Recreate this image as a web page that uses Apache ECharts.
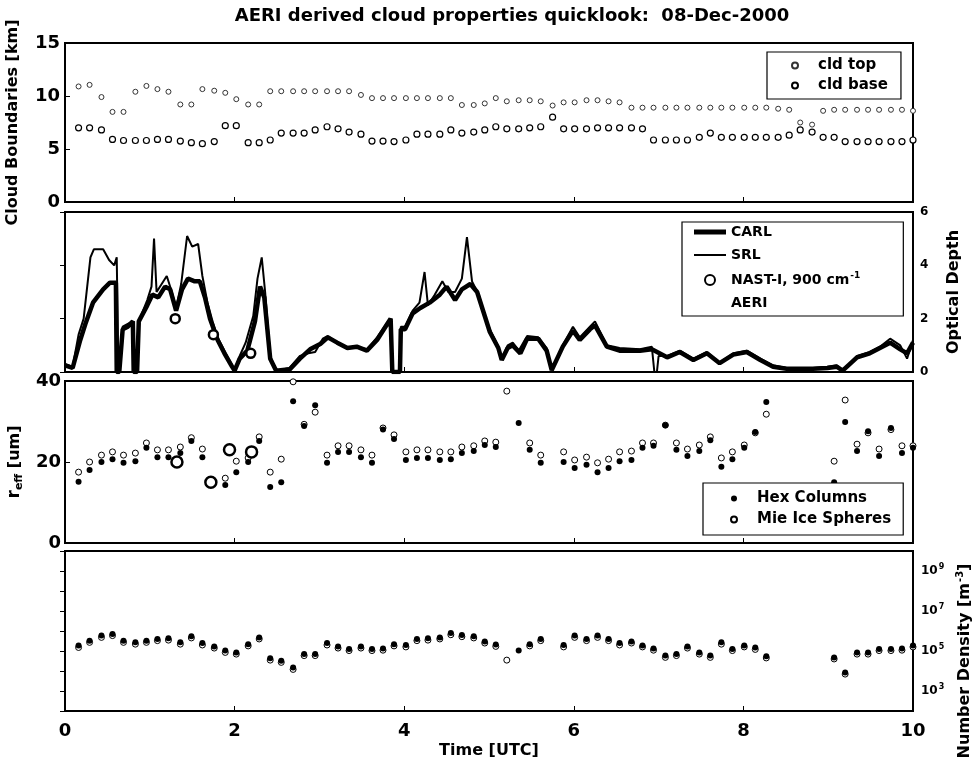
<!DOCTYPE html>
<html>
<head>
<meta charset="utf-8">
<script src="https://cdn.jsdelivr.net/npm/echarts@6/dist/echarts.min.js"></script>
<style>
  html, body { margin: 0; padding: 0; background: #fff; }
  #chart { width: 980px; height: 763px; }
</style>
</head>
<body>
<div id="chart"></div>
<script>
// Retrieval times (UTC hours) shared by the cloud boundary, r_eff and density panels
const retrievalTimes = [
  0.16, 0.29, 0.43, 0.56, 0.69, 0.83, 0.96, 1.09, 1.22, 1.36,
  1.49, 1.62, 1.76, 1.89, 2.02, 2.16, 2.29, 2.42, 2.55, 2.69,
  2.82, 2.95, 3.09, 3.22, 3.35, 3.49, 3.62, 3.75, 3.88, 4.02,
  4.15, 4.28, 4.42, 4.55, 4.68, 4.82, 4.95, 5.08, 5.21, 5.35,
  5.48, 5.61, 5.75, 5.88, 6.01, 6.15, 6.28, 6.41, 6.54, 6.68,
  6.81, 6.94, 7.08, 7.21, 7.34, 7.48, 7.61, 7.74, 7.87, 8.01,
  8.14, 8.27, 8.41, 8.54, 8.67, 8.81, 8.94, 9.07, 9.20, 9.34,
  9.47, 9.60, 9.74, 9.87, 10.00
];

// Cloud boundaries [km]
const cloudTop = [
  10.9, 11.05, 9.9, 8.5, 8.5, 10.4, 10.95, 10.65, 10.4, 9.2,
  9.2, 10.65, 10.5, 10.3, 9.7, 9.2, 9.2, 10.45, 10.45, 10.45,
  10.45, 10.45, 10.45, 10.45, 10.45, 10.1, 9.8, 9.8, 9.8, 9.8,
  9.8, 9.8, 9.8, 9.8, 9.15, 9.15, 9.3, 9.8, 9.5, 9.6,
  9.6, 9.5, 9.1, 9.4, 9.4, 9.6, 9.6, 9.5, 9.4, 8.9,
  8.9, 8.9, 8.9, 8.9, 8.9, 8.9, 8.9, 8.9, 8.9, 8.9,
  8.9, 8.9, 8.8, 8.7, 7.5, 7.3, 8.6, 8.7, 8.7, 8.7,
  8.7, 8.7, 8.7, 8.7, 8.6
];
const cloudBase = [
  7.0, 7.0, 6.8, 5.9, 5.8, 5.8, 5.8, 5.9, 5.9, 5.75,
  5.6, 5.5, 5.7, 7.2, 7.2, 5.6, 5.6, 5.85, 6.5, 6.5,
  6.5, 6.8, 7.1, 6.9, 6.6, 6.4, 5.75, 5.75, 5.7, 5.85,
  6.4, 6.4, 6.4, 6.8, 6.5, 6.6, 6.8, 7.1, 6.9, 6.9,
  7.0, 7.1, 8.0, 6.9, 6.9, 6.9, 7.0, 7.0, 7.0, 7.0,
  6.9, 5.85, 5.85, 5.85, 5.85, 6.1, 6.5, 6.1, 6.1, 6.1,
  6.1, 6.1, 6.1, 6.3, 6.8, 6.6, 6.1, 6.1, 5.7, 5.7,
  5.7, 5.7, 5.7, 5.7, 5.85
];

// Optical depth time series [UTC hour, tau]
const carlTau = [
  [0.00, 0.25], [0.09, 0.15], [0.18, 1.2], [0.24, 1.8], [0.33, 2.6], [0.45, 3.1], [0.53, 3.35],
  [0.60, 3.35], [0.61, 0], [0.64, 0], [0.68, 1.6], [0.74, 1.7], [0.80, 1.9], [0.81, 0], [0.85, 0],
  [0.87, 1.9], [0.97, 2.5], [1.03, 2.9], [1.10, 2.8], [1.18, 3.2], [1.24, 3.1], [1.31, 2.3],
  [1.38, 3.1], [1.45, 3.5], [1.53, 3.4], [1.59, 3.4], [1.65, 2.8], [1.71, 2.0], [1.80, 1.2],
  [1.88, 0.7], [1.97, 0.2], [2.00, 0.05], [2.06, 0.5], [2.15, 0.8], [2.24, 1.9], [2.30, 3.2],
  [2.35, 2.8], [2.42, 0.5], [2.49, 0.05], [2.65, 0.1], [2.77, 0.5], [2.89, 0.85], [3.01, 1.05],
  [3.10, 1.3], [3.21, 1.1], [3.33, 0.9], [3.44, 0.95], [3.56, 0.8], [3.68, 1.2], [3.80, 1.8],
  [3.84, 2.0], [3.86, 0], [3.95, 0], [3.96, 1.6], [4.01, 1.6], [4.10, 2.2], [4.19, 2.4],
  [4.30, 2.6], [4.42, 2.9], [4.50, 3.2], [4.60, 2.7], [4.68, 3.1], [4.78, 3.3], [4.86, 3.0],
  [4.95, 2.1], [5.01, 1.5], [5.11, 0.9], [5.15, 0.45], [5.22, 0.9], [5.28, 1.0], [5.37, 0.7],
  [5.45, 1.25], [5.58, 1.25], [5.68, 0.8], [5.74, 0.07], [5.87, 0.95], [5.99, 1.55], [6.07, 1.2],
  [6.19, 1.6], [6.25, 1.75], [6.39, 0.95], [6.54, 0.8], [6.78, 0.8], [6.92, 0.85], [7.10, 0.55],
  [7.25, 0.75], [7.41, 0.45], [7.57, 0.7], [7.72, 0.33], [7.88, 0.65], [8.04, 0.75], [8.20, 0.45],
  [8.35, 0.2], [8.51, 0.12], [8.67, 0.12], [8.82, 0.12], [8.99, 0.15], [9.10, 0.2], [9.17, 0.05],
  [9.34, 0.55], [9.49, 0.7], [9.61, 0.9], [9.73, 1.1], [9.85, 0.85], [9.93, 0.7], [10.00, 1.1]
];
const srlTau = [
  [0.00, 0.3], [0.09, 0.2], [0.16, 1.4], [0.22, 2.0], [0.30, 4.3], [0.34, 4.6], [0.45, 4.6],
  [0.52, 4.2], [0.58, 4.0], [0.61, 4.3], [0.63, 0], [0.65, 0], [0.68, 1.7], [0.74, 1.8],
  [0.80, 1.9], [0.81, 0], [0.85, 0], [0.87, 1.9], [0.97, 2.7], [1.02, 3.2], [1.05, 5.0],
  [1.08, 3.0], [1.14, 3.3], [1.20, 3.6], [1.26, 3.0], [1.31, 2.4], [1.37, 3.3], [1.44, 5.1],
  [1.50, 4.7], [1.57, 4.8], [1.62, 3.6], [1.68, 2.6], [1.74, 1.9], [1.80, 1.3], [1.88, 0.8],
  [1.97, 0.25], [2.00, 0.05], [2.06, 0.6], [2.13, 1.1], [2.22, 2.1], [2.27, 3.5], [2.32, 4.3],
  [2.36, 3.0], [2.42, 0.6], [2.49, 0.05], [2.65, 0.15], [2.77, 0.6], [2.87, 0.7], [2.95, 0.75],
  [3.04, 1.25], [3.10, 1.35], [3.21, 1.1], [3.33, 0.9], [3.44, 0.95], [3.56, 0.85], [3.68, 1.3],
  [3.80, 1.85], [3.84, 2.0], [3.86, 0], [3.95, 0], [3.96, 1.7], [4.01, 1.7], [4.10, 2.3],
  [4.18, 2.6], [4.24, 3.75], [4.28, 2.5], [4.36, 2.9], [4.45, 3.4], [4.52, 3.0], [4.60, 3.0],
  [4.68, 3.5], [4.74, 5.06], [4.80, 3.4], [4.88, 2.9], [4.95, 2.1], [5.01, 1.6], [5.11, 0.95],
  [5.15, 0.5], [5.22, 1.0], [5.28, 1.1], [5.35, 0.8], [5.45, 1.35], [5.58, 1.3], [5.68, 0.9],
  [5.74, 0.07], [5.87, 1.0], [5.99, 1.7], [6.07, 1.3], [6.19, 1.7], [6.25, 1.9], [6.39, 1.0],
  [6.54, 0.9], [6.78, 0.85], [6.92, 0.95], [6.95, 0], [6.98, 0], [7.00, 0.6], [7.10, 0.6],
  [7.25, 0.8], [7.41, 0.5], [7.57, 0.75], [7.72, 0.35], [7.88, 0.7], [8.04, 0.8], [8.20, 0.5],
  [8.35, 0.25], [8.51, 0.15], [8.67, 0.15], [8.82, 0.15], [8.99, 0.2], [9.10, 0.25], [9.17, 0.05],
  [9.34, 0.6], [9.49, 0.75], [9.61, 0.95], [9.73, 1.25], [9.85, 1.0], [9.93, 0.5], [10.00, 1.2]
];
const aeriTau = [];
const nastTau = [[1.30, 2.0], [1.75, 1.4], [2.19, 0.7]];

// Effective radius [um]
const reffHex = [
  15.1, 18.0, 20.0, 20.7, 19.8, 20.2, 23.5, 21.2, 21.2, 22.2,
  25.2, 21.2, null, 14.3, 17.5, 20.0, 25.2, 13.8, 15.0, 35.0,
  28.9, 34.0, 19.8, 22.5, 22.5, 21.2, 19.8, 28.0, 25.7, 20.5,
  21.0, 21.0, 20.5, 20.7, 22.2, 22.7, 24.2, 23.7, null, 29.6,
  23.0, 19.8, null, 20.0, 18.5, 19.3, 17.5, 18.5, 20.2, 20.5,
  23.5, 24.0, 29.1, 23.0, 21.5, 22.7, 25.4, 18.8, 20.7, 23.5,
  27.4, 34.8, null, null, null, null, null, 15.0, 29.9, 22.7,
  27.6, 21.5, 28.4, 22.2, 23.5
];
const reffMie = [
  17.5, 20.0, 21.7, 22.5, 21.7, 22.2, 24.7, 23.0, 23.0, 23.7,
  26.0, 23.2, null, 16.0, 20.2, 21.0, 26.2, 17.5, 20.7, 39.8,
  29.3, 32.3, 21.7, 24.0, 24.0, 23.0, 21.7, 28.4, 26.7, 22.5,
  23.0, 23.0, 22.5, 22.5, 23.7, 24.0, 25.2, 24.9, 37.5, null,
  24.7, 21.7, null, 22.5, 20.5, 21.2, 19.8, 20.7, 22.5, 22.7,
  24.7, 24.7, 29.1, 24.7, 23.2, 24.2, 26.2, 21.0, 22.5, 24.2,
  27.2, 31.8, null, null, null, null, null, 20.2, 35.3, 24.4,
  27.2, 23.2, 28.0, 24.0, 24.0
];
const nastReff = [[1.32, 20.0], [1.72, 15.0], [1.94, 23.0], [2.20, 22.5]];

// Number density [m^-3]
const densityHex = [
  1.9e5, 3.3e5, 5.9e5, 7.1e5, 3.3e5, 2.7e5, 3.3e5, 4.0e5, 4.3e5, 2.7e5,
  5.4e5, 2.5e5, 1.7e5, 1.05e5, 8.5e4, 2.2e5, 4.8e5, 4.3e4, 3.3e4, 1.5e4,
  7.1e4, 7.1e4, 2.5e5, 1.7e5, 1.26e5, 1.7e5, 1.26e5, 1.35e5, 2.2e5, 2.0e5,
  4.0e5, 4.3e5, 4.8e5, 7.9e5, 6.3e5, 5.4e5, 3.0e5, 2.1e5, null, 1.05e5,
  2.2e5, 4.0e5, null, 2.0e5, 5.9e5, 4.0e5, 5.9e5, 4.0e5, 2.5e5, 3.0e5,
  1.9e5, 1.35e5, 5.9e4, 7.1e4, 1.7e5, 8.5e4, 5.9e4, 2.7e5, 1.26e5, 1.9e5,
  1.5e5, 5.4e4, null, null, null, null, null, 4.8e4, 8.5e3, 8.5e4,
  8.5e4, 1.26e5, 1.26e5, 1.35e5, 1.9e5
];
const densityMie = [
  1.5e5, 2.7e5, 4.8e5, 5.9e5, 2.7e5, 2.2e5, 2.7e5, 3.3e5, 3.5e5, 2.2e5,
  4.5e5, 2.0e5, 1.4e5, 8.5e4, 7.0e4, 1.8e5, 4.0e5, 3.5e4, 2.7e4, 1.2e4,
  5.9e4, 5.9e4, 2.0e5, 1.4e5, 1.05e5, 1.4e5, 1.05e5, 1.1e5, 1.8e5, 1.6e5,
  3.3e5, 3.5e5, 4.0e5, 6.5e5, 5.2e5, 4.5e5, 2.5e5, 1.7e5, 3.5e4, null,
  1.8e5, 3.3e5, null, 1.6e5, 4.8e5, 3.3e5, 4.8e5, 3.3e5, 2.0e5, 2.5e5,
  1.6e5, 1.1e5, 4.8e4, 5.9e4, 1.4e5, 7.0e4, 4.8e4, 2.2e5, 1.05e5, 1.6e5,
  1.2e5, 4.5e4, null, null, null, null, null, 4.0e4, 7.0e3, 7.0e4,
  7.0e4, 1.05e5, 1.05e5, 1.1e5, 1.6e5
];

const FONT = '"DejaVu Sans", "Liberation Sans", Arial, sans-serif';
const pairs = vals => retrievalTimes.map((t, i) => [t, vals[i]]).filter(p => p[1] != null);

const chart = echarts.init(document.getElementById('chart'), null, { renderer: 'canvas' });

const grids = [
  { left: 65, right: 67, top: 43, height: 159 },
  { left: 65, right: 67, top: 212, height: 160 },
  { left: 65, right: 67, top: 381, height: 162 },
  { left: 65, right: 67, top: 551, height: 160 }
].map(g => Object.assign(g, {
  show: true, borderColor: '#000', borderWidth: 2, backgroundColor: '#fff',
  containLabel: false, outerBoundsMode: 'none'
}));

const tickStyle = { show: true, inside: true, length: 5, lineStyle: { color: '#000', width: 1 } };
const lineStyle = { show: true, lineStyle: { color: '#000', width: 2 } };
const boldText = (size) => ({ color: '#000', fontFamily: FONT, fontWeight: 'bold', fontSize: size });

const xAxes = [0, 1, 2, 3].map(i => ({
  type: 'value', gridIndex: i, min: 0, max: 10, interval: 2,
  axisLine: lineStyle, axisTick: tickStyle, splitLine: { show: false },
  axisLabel: Object.assign({ show: i === 3, margin: 11 }, boldText(18)),
  name: i === 3 ? 'Time [UTC]' : '',
  nameLocation: 'middle', nameGap: 32,
  nameTextStyle: boldText(16)
}));

const yAxes = [
  {
    type: 'value', gridIndex: 0, position: 'left', min: 0, max: 15, interval: 5,
    axisLine: lineStyle, axisTick: tickStyle, splitLine: { show: false },
    axisLabel: Object.assign({ margin: 5 }, boldText(18)),
    name: 'Cloud Boundaries [km]', nameLocation: 'middle', nameRotate: 90, nameGap: 44,
    nameTextStyle: boldText(16)
  },
  {
    type: 'value', gridIndex: 1, position: 'right', min: 0, max: 6, interval: 2,
    axisLine: lineStyle, axisTick: tickStyle, splitLine: { show: false },
    axisLabel: Object.assign({ margin: 7 }, boldText(12)),
    name: 'Optical Depth', nameLocation: 'middle', nameRotate: 90, nameGap: 33,
    nameTextStyle: boldText(16)
  },
  {
    type: 'value', gridIndex: 2, position: 'left', min: 0, max: 40, interval: 20,
    axisLine: lineStyle, axisTick: tickStyle, splitLine: { show: false },
    axisLabel: Object.assign({ margin: 4 }, boldText(18)),
    name: '{r|r}{s|eff}{u| [um]}', nameLocation: 'middle', nameRotate: 90, nameGap: 30,
    nameTextStyle: Object.assign(boldText(16), {
      rich: {
        r: boldText(17),
        s: Object.assign(boldText(11), { padding: [9, 0, 0, 0] }),
        u: boldText(16)
      }
    })
  },
  {
    type: 'log', gridIndex: 3, position: 'right', min: 1e2, max: 1e10, logBase: 10, interval: 1,
    axisLine: lineStyle, axisTick: tickStyle, splitLine: { show: false }, minorTick: { show: false },
    axisLabel: Object.assign({
      margin: 8,
      formatter: v => {
        const e = Math.round(Math.log10(v));
        return e % 2 === 1 ? '{b|10}{e|' + e + '}' : '';
      },
      rich: {
        b: boldText(12),
        e: Object.assign(boldText(8), { padding: [0, 0, 9, 1] })
      }
    }, boldText(12)),
    name: '{n|Number Density [m}{e|-3}{n|]}', nameLocation: 'middle', nameRotate: 90, nameGap: 40,
    nameTextStyle: Object.assign(boldText(16), {
      padding: [0, 60, 0, 0],
      rich: {
        n: boldText(16),
        e: Object.assign(boldText(10), { padding: [0, 0, 10, 1] })
      }
    })
  }
];

const openCircle = (size, border, color) => ({
  type: 'scatter', symbol: 'circle', symbolSize: size,
  itemStyle: { color: '#fff', borderColor: color || '#000', borderWidth: border, opacity: 1 }
});
const dot = (size) => ({
  type: 'scatter', symbol: 'circle', symbolSize: size,
  itemStyle: { color: '#000', borderColor: '#000', borderWidth: 0, opacity: 1 }
});

const series = [
  Object.assign(openCircle(5, 1, '#333'), { name: 'cld top', xAxisIndex: 0, yAxisIndex: 0, data: pairs(cloudTop) }),
  Object.assign(openCircle(6, 1.2), { name: 'cld base', xAxisIndex: 0, yAxisIndex: 0, data: pairs(cloudBase) }),

  { name: 'CARL', type: 'line', xAxisIndex: 1, yAxisIndex: 1, data: carlTau, showSymbol: false, symbol: 'none',
    lineStyle: { color: '#000', width: 4.5 }, itemStyle: { color: '#000' }, z: 3 },
  { name: 'SRL', type: 'line', xAxisIndex: 1, yAxisIndex: 1, data: srlTau, showSymbol: false, symbol: 'none',
    lineStyle: { color: '#000', width: 2 }, itemStyle: { color: '#000' }, z: 3 },
  Object.assign(openCircle(9, 2.5), { name: 'NAST-I, 900 cm-1', xAxisIndex: 1, yAxisIndex: 1, data: nastTau, z: 5 }),
  { name: 'AERI', type: 'line', xAxisIndex: 1, yAxisIndex: 1, data: aeriTau, showSymbol: false, symbol: 'none',
    lineStyle: { color: 'rgba(0,0,0,0)', width: 1 }, itemStyle: { color: 'rgba(0,0,0,0)' } },

  Object.assign(openCircle(6, 1), { name: 'Mie Ice Spheres', xAxisIndex: 2, yAxisIndex: 2, data: pairs(reffMie), z: 3 }),
  Object.assign(dot(6), { name: 'Hex Columns', xAxisIndex: 2, yAxisIndex: 2, data: pairs(reffHex), z: 4 }),
  Object.assign(openCircle(11, 2.5), { name: 'NAST-I r_eff', xAxisIndex: 2, yAxisIndex: 2, data: nastReff, z: 5 }),

  Object.assign(openCircle(6, 1), { name: 'Mie density', xAxisIndex: 3, yAxisIndex: 3, data: pairs(densityMie), z: 3 }),
  Object.assign(dot(6), { name: 'Hex density', xAxisIndex: 3, yAxisIndex: 3, data: pairs(densityHex), z: 4 })
];

const legendBase = {
  orient: 'vertical', selectedMode: false, backgroundColor: '#fff',
  borderColor: '#000', borderWidth: 1.2, borderRadius: 0, z: 10,
  textStyle: boldText(15)
};

const legends = [
  Object.assign({}, legendBase, {
    data: ['cld top', 'cld base'], left: 767, top: 52,
    itemWidth: 36, itemHeight: 6, itemGap: 5, padding: [6, 13, 6, 24]
  }),
  Object.assign({}, legendBase, {
    data: [
      { name: 'CARL', icon: 'path://M0,0 L32,0 L32,5 L0,5 Z' },
      { name: 'SRL', icon: 'path://M0,0 L32,0 L32,2 L0,2 Z' },
      { name: 'NAST-I, 900 cm-1' },
      { name: 'AERI', icon: 'none' }
    ],
    left: 682, top: 222,
    itemWidth: 32, itemHeight: 10, itemGap: 9, padding: [3, 43, 6, 12],
    formatter: name => name === 'NAST-I, 900 cm-1' ? '{t|NAST-I, 900 cm}{s|-1}' : name,
    textStyle: Object.assign(boldText(14), {
      rich: { t: boldText(14), s: Object.assign(boldText(9), { padding: [0, 0, 9, 1] }) }
    })
  }),
  Object.assign({}, legendBase, {
    data: ['Hex Columns', 'Mie Ice Spheres'], left: 703, top: 483,
    itemWidth: 36, itemHeight: 6, itemGap: 6, padding: [8, 12, 8, 27]
  })
];

chart.setOption({
  animation: false,
  backgroundColor: '#fff',
  title: {
    text: 'AERI derived cloud properties quicklook:  08-Dec-2000',
    left: 507, top: 2, textAlign: 'center',
    textStyle: boldText(18)
  },
  grid: grids,
  xAxis: xAxes,
  yAxis: yAxes,
  legend: legends,
  series: series
});
</script>
</body>
</html>
